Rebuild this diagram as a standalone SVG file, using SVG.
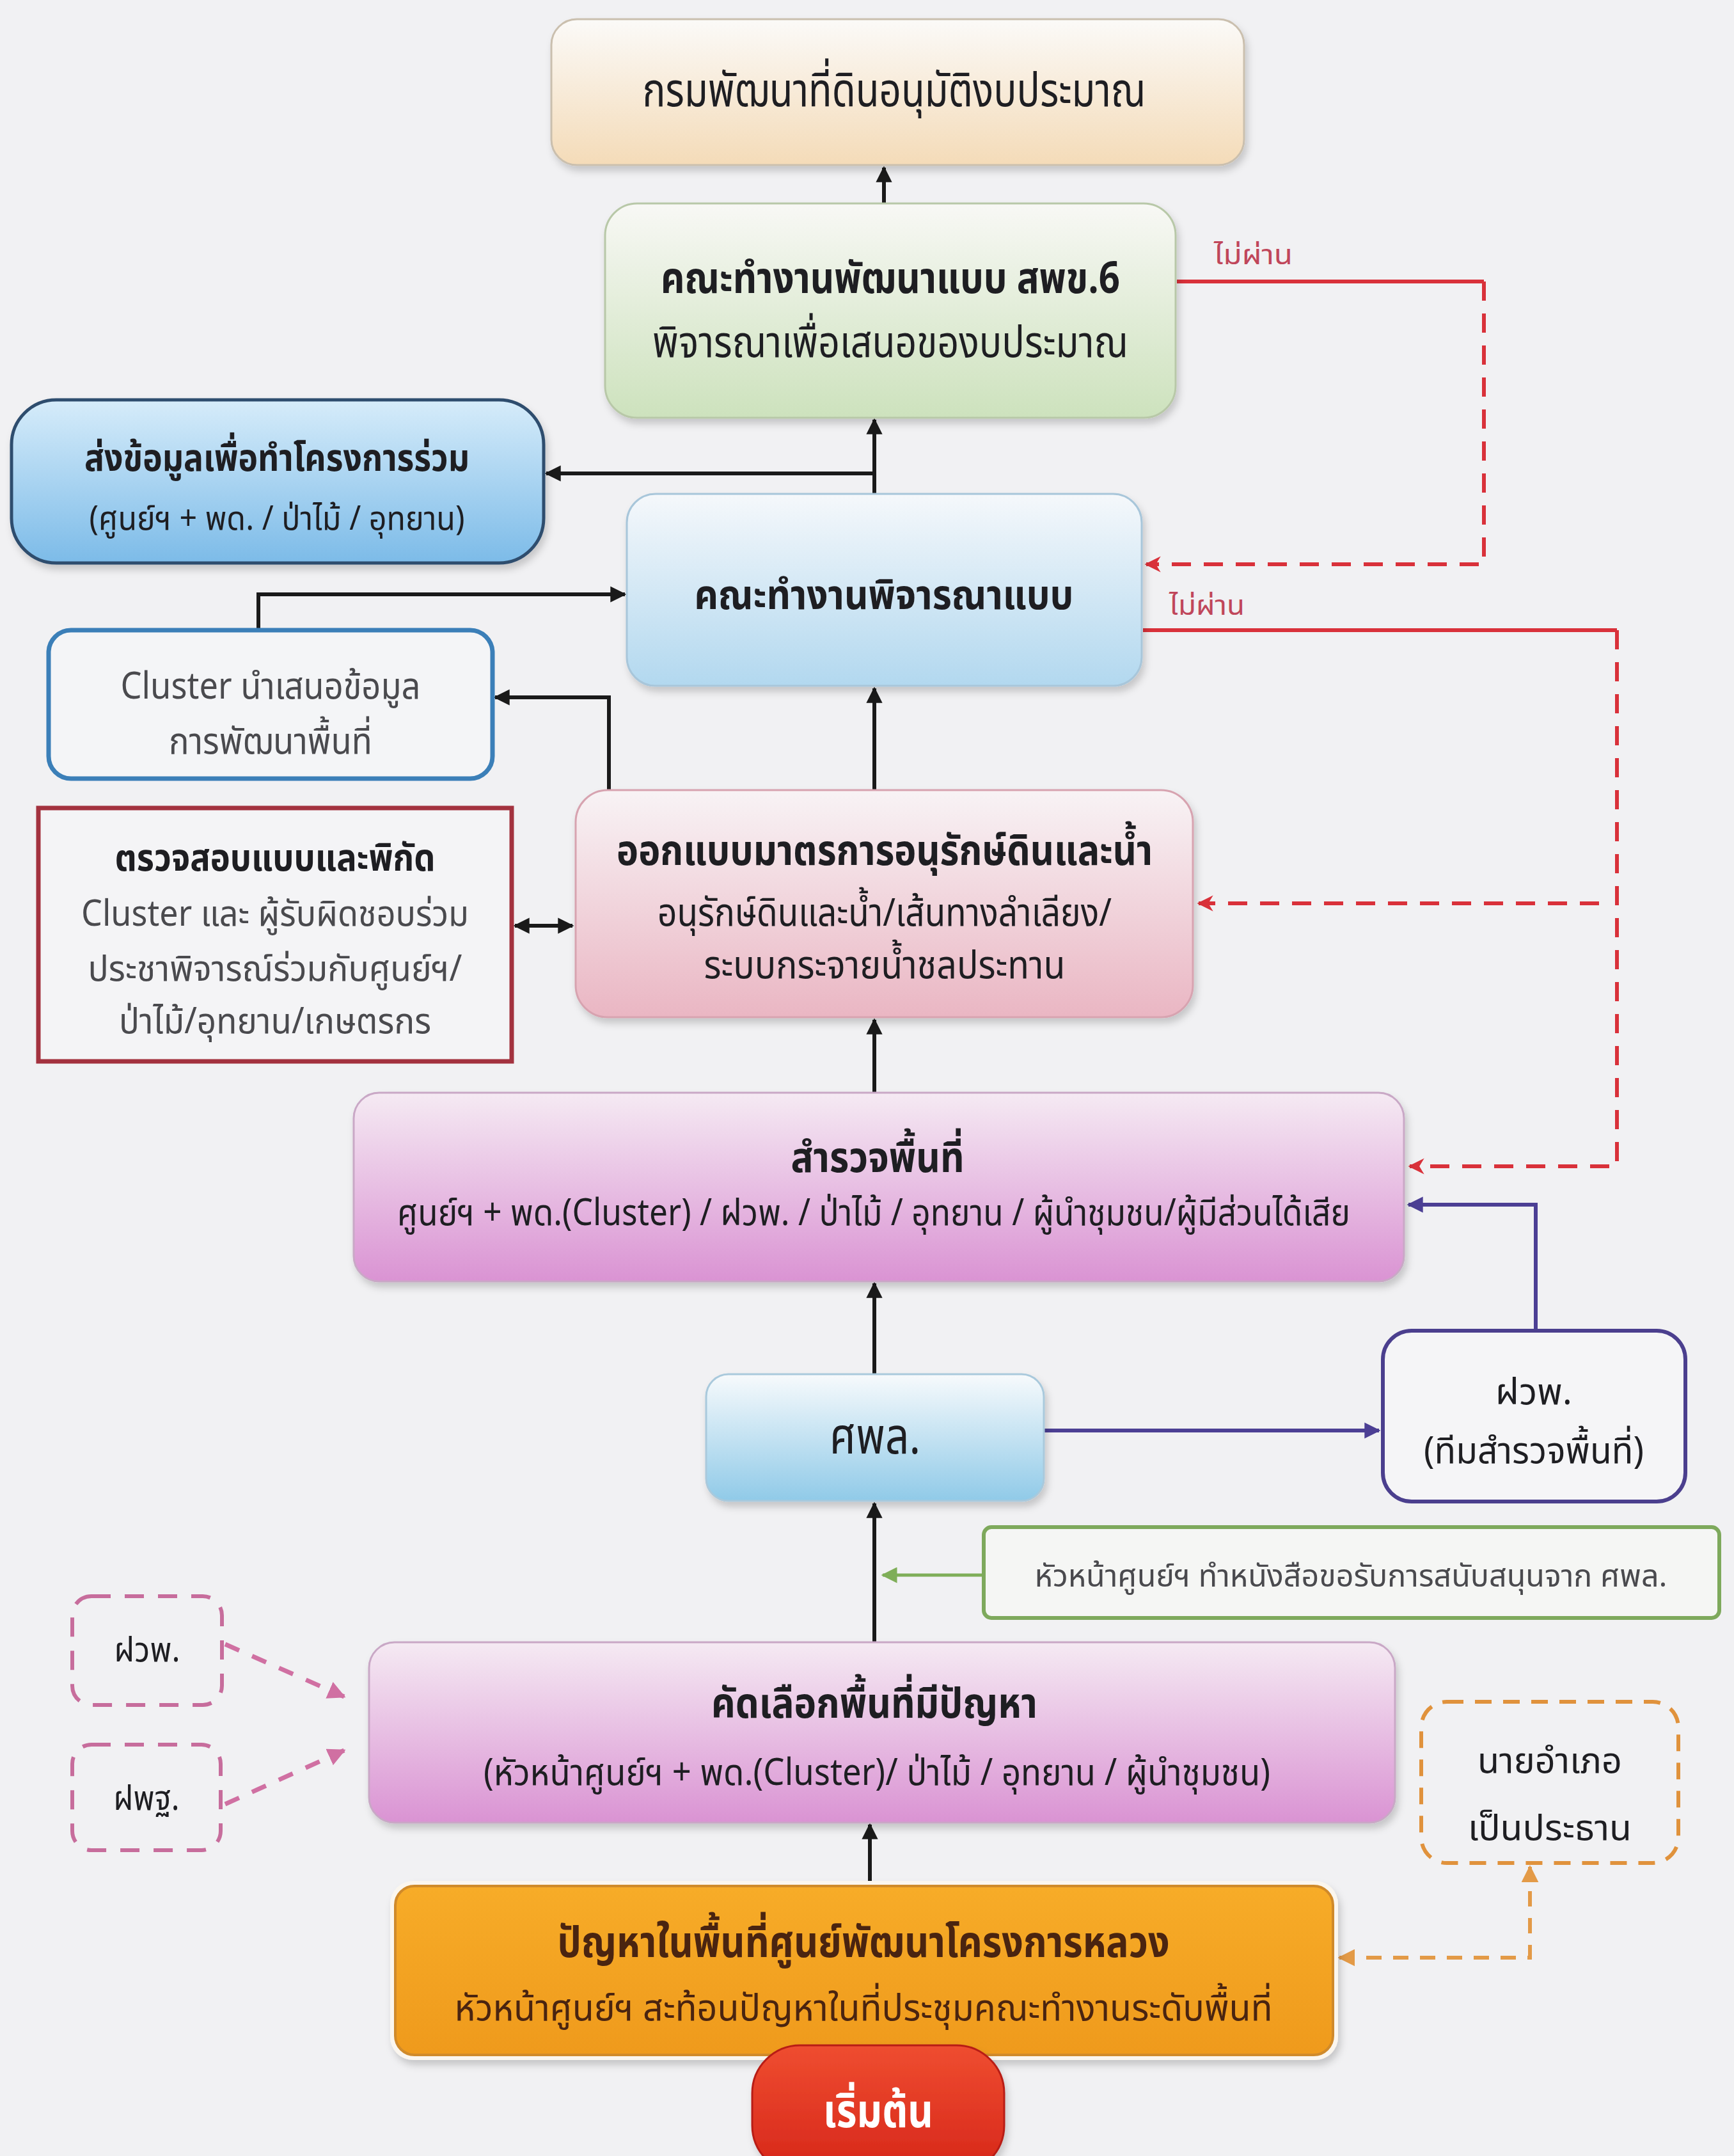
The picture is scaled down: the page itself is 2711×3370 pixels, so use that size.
<svg xmlns="http://www.w3.org/2000/svg" width="2711" height="3370" viewBox="0 0 2711 3370">
<defs>
<style>
text{font-family:"Noto Sans Thai","Noto Sans","DejaVu Sans",sans-serif;fill:#1e1e22;text-anchor:middle}
.b{font-weight:700}
.g{fill:#4a4a4e}
.ln{fill:none;stroke:#1a1a1a;stroke-width:6}
.rd{fill:none;stroke:#d9313a;stroke-width:6}
.rdd{fill:none;stroke:#d9313a;stroke-width:6;stroke-dasharray:30 20}
.pu{fill:none;stroke:#4c3f94;stroke-width:6}
.gr{fill:none;stroke:#7fae58;stroke-width:5}
.pk{fill:none;stroke:#d070a2;stroke-width:7;stroke-dasharray:24 22}
.or{fill:none;stroke:#e39a47;stroke-width:6;stroke-dasharray:24 18}
.lbl{fill:#c0465a;text-anchor:start;font-size:42px}
</style>
<linearGradient id="gTop" x1="0" y1="0" x2="0" y2="1"><stop offset="0" stop-color="#fbfaf8"/><stop offset="1" stop-color="#f4dbb8"/></linearGradient>
<linearGradient id="gGreen" x1="0" y1="0" x2="0" y2="1"><stop offset="0" stop-color="#f8f8f5"/><stop offset="1" stop-color="#cde2bd"/></linearGradient>
<linearGradient id="gBlueL" x1="0" y1="0" x2="0" y2="1"><stop offset="0" stop-color="#d6ecfa"/><stop offset="1" stop-color="#7cbbe8"/></linearGradient>
<linearGradient id="gBlue" x1="0" y1="0" x2="0" y2="1"><stop offset="0" stop-color="#f5f8fb"/><stop offset="1" stop-color="#b2d8ef"/></linearGradient>
<linearGradient id="gPink" x1="0" y1="0" x2="0" y2="1"><stop offset="0" stop-color="#f8f3f5"/><stop offset="1" stop-color="#eab6c3"/></linearGradient>
<linearGradient id="gMag" x1="0" y1="0" x2="0" y2="1"><stop offset="0" stop-color="#f5eaf3"/><stop offset="1" stop-color="#da93d3"/></linearGradient>
<linearGradient id="gSky" x1="0" y1="0" x2="0" y2="1"><stop offset="0" stop-color="#f7fafc"/><stop offset="1" stop-color="#90cae8"/></linearGradient>
<linearGradient id="gOr" x1="0" y1="0" x2="0" y2="1"><stop offset="0" stop-color="#f7ac28"/><stop offset="1" stop-color="#ef9a1c"/></linearGradient>
<linearGradient id="gRed" x1="0" y1="0" x2="0" y2="1"><stop offset="0" stop-color="#ef4d30"/><stop offset="1" stop-color="#d6261a"/></linearGradient>
<filter id="sh" x="-5%" y="-10%" width="110%" height="125%"><feDropShadow dx="4" dy="8" stdDeviation="6" flood-color="#000" flood-opacity="0.18"/></filter>
<marker id="aK" viewBox="0 0 10 10" refX="9" refY="5" markerWidth="4.2" markerHeight="4.2" orient="auto-start-reverse"><path d="M0,0 L10,5 L0,10 z" fill="#1a1a1a"/></marker>
<marker id="aR" viewBox="0 0 10 10" refX="9" refY="5" markerWidth="4.2" markerHeight="4.2" orient="auto-start-reverse"><path d="M0,0 L10,5 L0,10 L3,5 z" fill="#d9313a"/></marker>
<marker id="aP" viewBox="0 0 10 10" refX="9" refY="5" markerWidth="4.2" markerHeight="4.2" orient="auto-start-reverse"><path d="M0,0 L10,5 L0,10 z" fill="#4c3f94"/></marker>
<marker id="aG" viewBox="0 0 10 10" refX="9" refY="5" markerWidth="5" markerHeight="5" orient="auto-start-reverse"><path d="M0,0 L10,5 L0,10 z" fill="#7fae58"/></marker>
<marker id="aPk" viewBox="0 0 10 10" refX="9" refY="5" markerWidth="4" markerHeight="4" orient="auto-start-reverse"><path d="M0,0 L10,5 L0,10 z" fill="#d070a2"/></marker>
<marker id="aO" viewBox="0 0 10 10" refX="9" refY="5" markerWidth="4.5" markerHeight="4.5" orient="auto-start-reverse"><path d="M0,0 L10,5 L0,10 z" fill="#e39a47"/></marker>
</defs>
<rect x="0" y="0" width="2711" height="3370" fill="#f1f1f3"/>

<g id="connectors">
<path class="ln" d="M1382,352 V262" marker-end="url(#aK)"/>
<path class="ln" d="M1367,772 V656" marker-end="url(#aK)"/>
<path class="ln" d="M1367,740 H854" marker-end="url(#aK)"/>
<path class="ln" d="M1367,1235 V1076" marker-end="url(#aK)"/>
<path class="ln" d="M952,1268 V1090 H774" marker-end="url(#aK)"/>
<path class="ln" d="M404,985 V929 H977" marker-end="url(#aK)"/>
<path class="ln" d="M805,1447 H895" marker-start="url(#aK)" marker-end="url(#aK)"/>
<path class="ln" d="M1367,1708 V1594" marker-end="url(#aK)"/>
<path class="ln" d="M1367,2148 V2006" marker-end="url(#aK)"/>
<path class="ln" d="M1367,2567 V2350" marker-end="url(#aK)"/>
<path class="ln" d="M1360,2948 V2852" marker-end="url(#aK)"/>
<path class="gr" d="M1538,2462 H1380" marker-end="url(#aG)"/>
<path class="pu" d="M1632,2236 H2156" marker-end="url(#aP)"/>
<path class="pu" d="M2401,2080 V1883 H2202" marker-end="url(#aP)"/>
<path class="pk" d="M352,2570 L538,2652" marker-end="url(#aPk)"/>
<path class="pk" d="M352,2820 L538,2736" marker-end="url(#aPk)"/>
<path class="or" d="M2094,3060 H2392 V2918" marker-start="url(#aO)" marker-end="url(#aO)"/>
<path class="rd" d="M1840,440 H2320"/>
<path class="rdd" d="M2320,440 V882 H1792" marker-end="url(#aR)"/>
<path class="rd" d="M1787,985 H2528"/>
<path class="rdd" d="M2528,985 V1823 H2204" marker-end="url(#aR)"/>
<path class="rdd" d="M2500,1412 H1874" marker-end="url(#aR)"/>
<text class="lbl" x="1898" y="413" textLength="123" lengthAdjust="spacingAndGlyphs">ไม่ผ่าน</text>
<text class="lbl" x="1828" y="961" textLength="118" lengthAdjust="spacingAndGlyphs">ไม่ผ่าน</text>
</g>

<g id="n-approve">
<rect x="862" y="30" width="1083" height="228" rx="40" fill="url(#gTop)" stroke="#cabfae" stroke-width="3" filter="url(#sh)"/>
<text x="1398" y="166" font-size="74" textLength="787" lengthAdjust="spacingAndGlyphs">กรมพัฒนาที่ดินอนุมัติงบประมาณ</text>
</g>

<g id="n-dev6">
<rect x="946" y="318" width="892" height="335" rx="50" fill="url(#gGreen)" stroke="#b8c8a8" stroke-width="3" filter="url(#sh)"/>
<text class="b" x="1392" y="458" font-size="68" textLength="718" lengthAdjust="spacingAndGlyphs">คณะทำงานพัฒนาแบบ สพข.6</text>
<text x="1392" y="558" font-size="68" textLength="744" lengthAdjust="spacingAndGlyphs">พิจารณาเพื่อเสนอของบประมาณ</text>
</g>

<g id="n-joint">
<rect x="18" y="625" width="832" height="255" rx="70" fill="url(#gBlueL)" stroke="#2f4d6e" stroke-width="5" filter="url(#sh)"/>
<text class="b" x="433" y="736" font-size="58" textLength="602" lengthAdjust="spacingAndGlyphs">ส่งข้อมูลเพื่อทำโครงการร่วม</text>
<text x="433" y="828" font-size="52" textLength="587" lengthAdjust="spacingAndGlyphs">(ศูนย์ฯ + พด. / ป่าไม้ / อุทยาน)</text>
</g>

<g id="n-review">
<rect x="980" y="772" width="805" height="300" rx="45" fill="url(#gBlue)" stroke="#a8c6da" stroke-width="3" filter="url(#sh)"/>
<text class="b" x="1382" y="952" font-size="64" textLength="593" lengthAdjust="spacingAndGlyphs">คณะทำงานพิจารณาแบบ</text>
</g>

<g id="n-cluster">
<rect x="76" y="985" width="694" height="232" rx="35" fill="#f4f5f7" stroke="#3b7fb8" stroke-width="7"/>
<text class="g" x="423" y="1092" font-size="58" textLength="469" lengthAdjust="spacingAndGlyphs">Cluster นำเสนอข้อมูล</text>
<text class="g" x="423" y="1178" font-size="58" textLength="318" lengthAdjust="spacingAndGlyphs">การพัฒนาพื้นที่</text>
</g>

<g id="n-check">
<rect x="60" y="1263" width="740" height="396" fill="#f4f4f6" stroke="#a3323e" stroke-width="7"/>
<text class="b" x="430" y="1361" font-size="58" textLength="501" lengthAdjust="spacingAndGlyphs">ตรวจสอบแบบและพิกัด</text>
<text class="g" x="430" y="1447" font-size="56" textLength="606" lengthAdjust="spacingAndGlyphs">Cluster และ ผู้รับผิดชอบร่วม</text>
<text class="g" x="430" y="1533" font-size="56" textLength="585" lengthAdjust="spacingAndGlyphs">ประชาพิจารณ์ร่วมกับศูนย์ฯ/</text>
<text class="g" x="430" y="1615" font-size="56" textLength="488" lengthAdjust="spacingAndGlyphs">ป่าไม้/อุทยาน/เกษตรกร</text>
</g>

<g id="n-design">
<rect x="900" y="1235" width="965" height="355" rx="50" fill="url(#gPink)" stroke="#d7a3b0" stroke-width="3" filter="url(#sh)"/>
<text class="b" x="1383" y="1352" font-size="66" textLength="838" lengthAdjust="spacingAndGlyphs">ออกแบบมาตรการอนุรักษ์ดินและน้ำ</text>
<text x="1383" y="1447" font-size="60" textLength="710" lengthAdjust="spacingAndGlyphs">อนุรักษ์ดินและน้ำ/เส้นทางลำเลียง/</text>
<text x="1383" y="1529" font-size="60" textLength="565" lengthAdjust="spacingAndGlyphs">ระบบกระจายน้ำชลประทาน</text>
</g>

<g id="n-survey">
<rect x="553" y="1708" width="1642" height="295" rx="40" fill="url(#gMag)" stroke="#c9a8c6" stroke-width="3" filter="url(#sh)"/>
<text class="b" x="1372" y="1832" font-size="66" textLength="271" lengthAdjust="spacingAndGlyphs">สำรวจพื้นที่</text>
<text x="1366" y="1915" font-size="58" textLength="1490" lengthAdjust="spacingAndGlyphs">ศูนย์ฯ + พด.(Cluster) / ฝวพ. / ป่าไม้ / อุทยาน / ผู้นำชุมชน/ผู้มีส่วนได้เสีย</text>
</g>

<g id="n-spl">
<rect x="1104" y="2148" width="528" height="198" rx="35" fill="url(#gSky)" stroke="#a9c9dc" stroke-width="3" filter="url(#sh)"/>
<text x="1368" y="2272" font-size="78" textLength="142" lengthAdjust="spacingAndGlyphs">ศพล.</text>
</g>

<g id="n-team">
<rect x="2162" y="2080" width="473" height="267" rx="45" fill="#f5f5f7" stroke="#4b3f8e" stroke-width="6"/>
<text x="2398" y="2195" font-size="58" textLength="120" lengthAdjust="spacingAndGlyphs">ฝวพ.</text>
<text x="2398" y="2287" font-size="58" textLength="344" lengthAdjust="spacingAndGlyphs">(ทีมสำรวจพื้นที่)</text>
</g>

<g id="n-letter">
<rect x="1538" y="2387" width="1150" height="142" rx="12" fill="#f5f6f4" stroke="#7ea95c" stroke-width="6"/>
<text class="g" x="2112" y="2480" font-size="48" textLength="989" lengthAdjust="spacingAndGlyphs">หัวหน้าศูนย์ฯ ทำหนังสือขอรับการสนับสนุนจาก ศพล.</text>
</g>

<g id="n-fwp">
<rect x="113" y="2495" width="234" height="170" rx="30" fill="none" stroke="#c76d9c" stroke-width="6" stroke-dasharray="30 22"/>
<text x="230" y="2597" font-size="54" textLength="103" lengthAdjust="spacingAndGlyphs">ฝวพ.</text>
</g>

<g id="n-fpt">
<rect x="113" y="2727" width="232" height="165" rx="30" fill="none" stroke="#c76d9c" stroke-width="6" stroke-dasharray="30 22"/>
<text x="229" y="2829" font-size="54" textLength="103" lengthAdjust="spacingAndGlyphs">ฝพฐ.</text>
</g>

<g id="n-select">
<rect x="577" y="2567" width="1604" height="282" rx="40" fill="url(#gMag)" stroke="#c9a8c6" stroke-width="3" filter="url(#sh)"/>
<text class="b" x="1367" y="2685" font-size="66" textLength="510" lengthAdjust="spacingAndGlyphs">คัดเลือกพื้นที่มีปัญหา</text>
<text x="1371" y="2790" font-size="58" textLength="1230" lengthAdjust="spacingAndGlyphs">(หัวหน้าศูนย์ฯ + พด.(Cluster)/ ป่าไม้ / อุทยาน / ผู้นำชุมชน)</text>
</g>

<g id="n-chair">
<rect x="2222" y="2660" width="402" height="252" rx="40" fill="none" stroke="#e0923c" stroke-width="6" stroke-dasharray="26 18"/>
<text x="2423" y="2771" font-size="56" textLength="226" lengthAdjust="spacingAndGlyphs">นายอำเภอ</text>
<text x="2423" y="2876" font-size="56" textLength="256" lengthAdjust="spacingAndGlyphs">เป็นประธาน</text>
</g>

<g id="n-problem">
<rect x="610" y="2940" width="1482" height="280" rx="36" fill="#fbf6ee" filter="url(#sh)"/>
<rect x="618" y="2948" width="1466" height="264" rx="30" fill="url(#gOr)" stroke="#d08a2a" stroke-width="4"/>
<text class="b" x="1350" y="3059" font-size="68" textLength="957" lengthAdjust="spacingAndGlyphs" style="fill:#4a2410">ปัญหาในพื้นที่ศูนย์พัฒนาโครงการหลวง</text>
<text x="1350" y="3158" font-size="58" textLength="1279" lengthAdjust="spacingAndGlyphs" style="fill:#4a2410">หัวหน้าศูนย์ฯ สะท้อนปัญหาในที่ประชุมคณะทำงานระดับพื้นที่</text>
</g>

<g id="n-start">
<rect x="1176" y="3197" width="394" height="200" rx="75" fill="url(#gRed)" stroke="#b81e14" stroke-width="3" filter="url(#sh)"/>
<text class="b" x="1373" y="3325" font-size="72" textLength="172" lengthAdjust="spacingAndGlyphs" style="fill:#ffffff">เริ่มต้น</text>
</g>
</svg>
